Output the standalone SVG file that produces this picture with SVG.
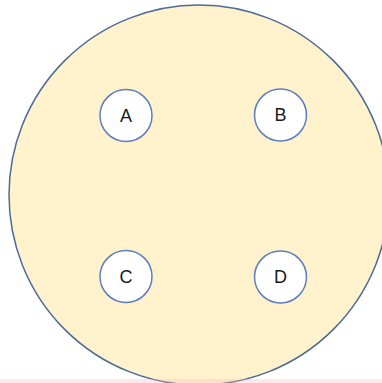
<svg xmlns="http://www.w3.org/2000/svg" width="382" height="383" viewBox="0 0 382 383">
<style>
.big{fill:#fff2cc;stroke:#4d6b95;stroke-width:1.5}
.node circle{fill:#ffffff;stroke:#5b7fbf;stroke-width:1.5}
.node text{font-family:"Liberation Sans","Noto Sans",sans-serif;font-size:18px;fill:#1a1a1a;text-anchor:middle;dominant-baseline:central}
</style>
<rect width="382" height="383" fill="#ffffff"/>
<circle class="big" cx="199" cy="195" r="190"/>
<g id="connectors"></g>
<g id="A" class="node"><circle cx="126" cy="115.5" r="26"/><text x="126" y="115.5">A</text></g>
<g id="B" class="node"><circle cx="280.5" cy="115" r="26"/><text x="280.5" y="115">B</text></g>
<g id="C" class="node"><circle cx="126" cy="276.5" r="26"/><text x="126" y="276.5">C</text></g>
<g id="D" class="node"><circle cx="280.5" cy="277" r="26"/><text x="280.5" y="277">D</text></g>
<rect x="0" y="379" width="382" height="4" fill="#f4b8b8" opacity="0.3"/>
</svg>
